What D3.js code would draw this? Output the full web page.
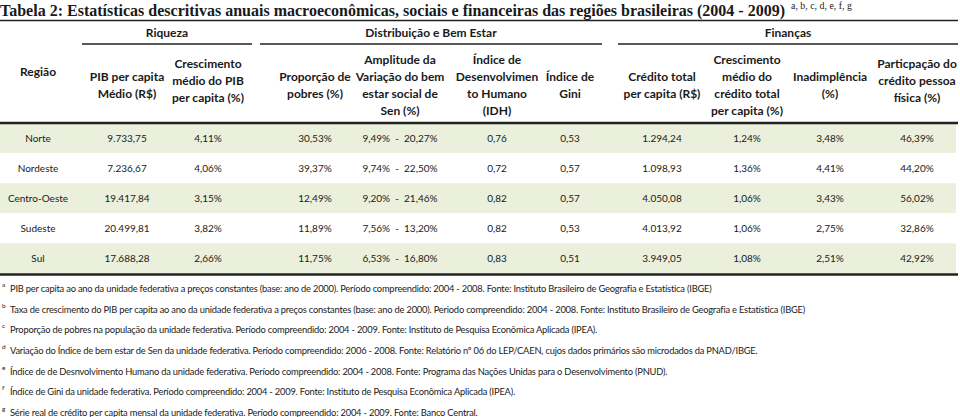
<!DOCTYPE html>
<html>
<head>
<meta charset="utf-8">
<script src="https://cdn.jsdelivr.net/npm/d3@7"></script>
<style>
body { margin: 0; background: #fff; }
svg { display: block; }
text { font-family: Lato, "Open Sans", sans-serif; fill: #1a1a1a; }
</style>
</head>
<body>
<script>
// dados da tabela
const regioes = ["Norte", "Nordeste", "Centro-Oeste", "Sudeste", "Sul"];
const pibMedio = [9733.75, 7236.67, 19417.84, 20499.81, 17688.28];
const crescPib = [4.11, 4.06, 3.15, 3.82, 2.66];
const pobres = [30.53, 39.37, 12.49, 11.89, 11.75];
const senMin = [9.49, 9.74, 9.20, 7.56, 6.53];
const senMax = [20.27, 22.50, 21.46, 13.20, 16.80];
const idh = [0.76, 0.72, 0.82, 0.82, 0.83];
const gini = [0.53, 0.57, 0.57, 0.53, 0.51];
const creditoPc = [1294.24, 1098.93, 4050.08, 4013.92, 3949.05];
const crescCredito = [1.24, 1.36, 1.06, 1.06, 1.08];
const inadimplencia = [3.48, 4.41, 3.43, 2.75, 2.51];
const credPF = [46.39, 44.20, 56.02, 32.86, 42.92];

const titulo = "Tabela 2: Estatísticas descritivas anuais macroeconômicas, sociais e financeiras das regiões brasileiras (2004 - 2009)";
const tituloNotas = "a, b, c, d, e, f, g";

const grupos = ["Riqueza", "Distribuição e Bem Estar", "Finanças"];
const colunas = ["regiao", "pib", "crescPib", "pobres", "sen", "idh", "gini", "credito", "crescCred", "inad", "pf"];
const cabecalhos = [
  ["Região"],
  ["PIB per capita", "Médio (R$)"],
  ["Crescimento", "médio do PIB", "per capita  (%)"],
  ["Proporção de", "pobres (%)"],
  ["Amplitude da", "Variação do bem", "estar social de", "Sen (%)"],
  ["Índice de", "Desenvolvimen", "to Humano", "(IDH)"],
  ["Índice de", "Gini"],
  ["Crédito total", "per capita (R$)"],
  ["Crescimento", "médio do", "crédito total", "per capita (%)"],
  ["Inadimplência", "(%)"],
  ["Particpação do", "crédito pessoa", "física (%)"]
];

const notasLetras = ["a", "b", "c", "d", "e", "f", "g"];
const notas = [
  "PIB per capita ao ano da unidade federativa a preços constantes (base: ano de 2000). Período compreendido: 2004 - 2008. Fonte: Instituto Brasileiro de Geografia e Estatística  (IBGE)",
  "Taxa de crescimento do PIB per capita ao ano da unidade federativa a preços constantes (base: ano de 2000). Periodo compreendido: 2004 - 2008. Fonte: Instituto Brasileiro de Geografia e Estatística  (IBGE)",
  "Proporção de pobres na população da unidade federativa. Período compreendido: 2004 - 2009. Fonte: Instituto de Pesquisa Econômica Aplicada (IPEA).",
  "Variação do Índice de bem estar de Sen da unidade federativa. Período compreendido: 2006 - 2008. Fonte: Relatório nº 06 do LEP/CAEN, cujos dados primários são microdados da PNAD/IBGE.",
  "Índice de de Desnvolvimento Humano da unidade federativa. Período compreendido: 2004 - 2008. Fonte: Programa das Nações Unidas para o Desenvolvimento (PNUD).",
  "Índice de Gini da unidade federativa. Período compreendido: 2004 - 2009. Fonte: Instituto de Pesquisa Econômica Aplicada (IPEA).",
  "Série real de crédito per capita mensal da unidade federativa. Período compreendido: 2004 - 2009. Fonte: Banco Central."
];

// formatação pt-BR
const br = d3.formatLocale({ decimal: ",", thousands: ".", grouping: [3], currency: ["R$", ""] });
const fMoeda = br.format(",.2f");
const fDec = br.format(".2f");
const fPct = v => fDec(v) + "%";

// layout
const width = 960, height = 417;
const x = d3.scaleOrdinal().domain(colunas)
  .range([38, 127, 208, 315, 400, 497, 570, 662, 747, 830, 917]);
const y = d3.scaleBand().domain(regioes).range([123, 273.5]);
const grupoX = d3.scaleOrdinal().domain(grupos).range([[82, 252], [260, 602], [618, 958]]);
const notaY = d3.scalePoint().domain(notasLetras).range([288, 412]);

const svg = d3.select("body").append("svg")
  .attr("width", width)
  .attr("height", height);

function ajusta(sel, alvo) {
  const w = sel.node().getComputedTextLength();
  const fs = parseFloat(sel.attr("font-size"));
  sel.attr("font-size", fs * alvo / w);
  return fs * alvo / w;
}

// linhas de dados (fundo primeiro)
const linhas = svg.append("g").selectAll("g").data(regioes).enter().append("g")
  .attr("transform", d => `translate(0,${y(d)})`);
linhas.append("rect")
  .attr("x", 0).attr("width", 956)
  .attr("height", y.bandwidth())
  .attr("fill", (d, i) => i % 2 === 0 ? "#eaf0dc" : "#fff");

const celulas = (d, i) => [
  ["regiao", d],
  ["pib", fMoeda(pibMedio[i])],
  ["crescPib", fPct(crescPib[i])],
  ["pobres", fPct(pobres[i])],
  ["sen", fPct(senMin[i]) + "  -  " + fPct(senMax[i])],
  ["idh", fDec(idh[i])],
  ["gini", fDec(gini[i])],
  ["credito", fMoeda(creditoPc[i])],
  ["crescCred", fPct(crescCredito[i])],
  ["inad", fPct(inadimplencia[i])],
  ["pf", fPct(credPF[i])]
];
linhas.selectAll("text").data(celulas).enter().append("text")
  .attr("x", d => x(d[0]))
  .attr("y", y.bandwidth() / 2 + 3.5)
  .attr("text-anchor", "middle")
  .attr("font-size", 10)
  .style("white-space", "pre")
  .text(d => d[1]);

// titulo
const t = svg.append("text")
  .attr("x", 0).attr("y", 16)
  .style("font-family", "'Liberation Serif', 'DejaVu Serif', serif")
  .attr("font-weight", "bold")
  .attr("font-size", 16)
  .text(titulo);
ajusta(t, 785);
const tn = svg.append("text")
  .attr("x", 791).attr("y", 9)
  .style("font-family", "'Liberation Serif', 'DejaVu Serif', serif")
  .attr("font-size", 8)
  .text(tituloNotas);
ajusta(tn, 61);

svg.append("line")
  .attr("x1", 0).attr("x2", 958)
  .attr("y1", 20.5).attr("y2", 20.5)
  .attr("stroke", "#222").attr("stroke-width", 1.6);

// grupos
const g = svg.append("g").selectAll("g").data(grupos).enter().append("g");
g.append("text")
  .attr("x", d => (grupoX(d)[0] + grupoX(d)[1]) / 2)
  .attr("y", 37)
  .attr("text-anchor", "middle")
  .attr("font-weight", "bold")
  .attr("font-size", 12)
  .text(d => d);
g.append("line")
  .attr("x1", d => grupoX(d)[0]).attr("x2", d => grupoX(d)[1])
  .attr("y1", 44).attr("y2", 44)
  .attr("stroke", "#222").attr("stroke-width", 1.6);

// cabecalhos das colunas
const lh = 17;
const cab = svg.append("g").selectAll("text").data(cabecalhos).enter().append("text")
  .attr("text-anchor", "middle")
  .attr("font-weight", "bold")
  .attr("font-size", 12)
  .attr("transform", (d, i) => {
    const meio = i === 0 ? 72 : d.length === 3 ? 81 : 85;
    return `translate(${x(colunas[i])},${meio - (d.length - 1) * lh / 2 + 4})`;
  });
cab.selectAll("tspan").data(d => d).enter().append("tspan")
  .attr("x", 0)
  .attr("y", (d, j) => j * lh)
  .text(d => d);

svg.append("line")
  .attr("x1", 0).attr("x2", 958)
  .attr("y1", 123).attr("y2", 123)
  .attr("stroke", "#222").attr("stroke-width", 2.5);

svg.append("line")
  .attr("x1", 0).attr("x2", 958)
  .attr("y1", 274.5).attr("y2", 274.5)
  .attr("stroke", "#222").attr("stroke-width", 2.5);

// notas de rodape
const nt = svg.append("g").selectAll("g").data(notas).enter().append("g")
  .attr("transform", (d, i) => `translate(0,${notaY(notasLetras[i])})`);
nt.append("text")
  .attr("x", 2).attr("y", -1)
  .attr("font-size", 6.5)
  .text((d, i) => notasLetras[i]);
const ntx = nt.append("text")
  .attr("x", 10).attr("y", 4)
  .attr("font-size", 10)
  .attr("letter-spacing", -0.2)
  .text(d => d);
const fsNota = ajusta(d3.select(ntx.nodes()[0]), 705);
ntx.attr("font-size", fsNota);
</script>
</body>
</html>
